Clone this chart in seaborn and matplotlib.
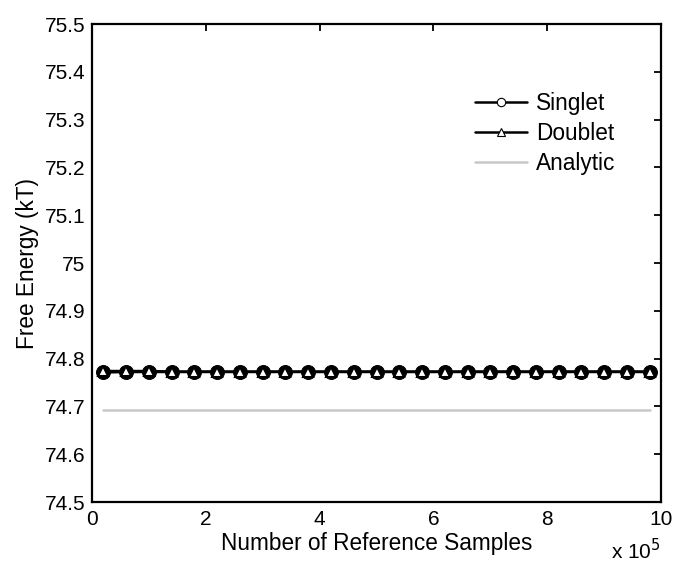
import matplotlib
matplotlib.use("Agg")
import matplotlib.pyplot as plt
import seaborn as sns
import numpy as np
import pandas as pd
from matplotlib.lines import Line2D

samples = [20000, 60000, 100000, 140000, 180000, 220000, 260000, 300000, 340000,
           380000, 420000, 460000, 500000, 540000, 580000, 620000, 660000, 700000,
           740000, 780000, 820000, 860000, 900000, 940000, 980000]
singlet = [74.771, 74.772, 74.772, 74.772, 74.772, 74.772, 74.772, 74.772, 74.772,
           74.772, 74.772, 74.772, 74.772, 74.772, 74.772, 74.772, 74.772, 74.772,
           74.772, 74.772, 74.772, 74.772, 74.772, 74.772, 74.772]
doublet = [74.774, 74.774, 74.774, 74.773, 74.773, 74.773, 74.773, 74.773, 74.773,
           74.773, 74.773, 74.773, 74.773, 74.773, 74.773, 74.773, 74.773, 74.773,
           74.773, 74.773, 74.773, 74.773, 74.773, 74.773, 74.773]
analytic = 74.692

yticks = [74.5, 74.6, 74.7, 74.8, 74.9, 75.0, 75.1, 75.2, 75.3, 75.4, 75.5]
yticklabels = ["74.5", "74.6", "74.7", "74.8", "74.9", "75", "75.1", "75.2", "75.3", "75.4", "75.5"]
xticks = [0, 2, 4, 6, 8, 10]

sns.set_style("white")
plt.rcParams['font.family'] = ['Liberation Sans', 'DejaVu Sans']
plt.rcParams['text.color'] = 'black'
plt.rcParams['axes.labelcolor'] = 'black'

df = pd.DataFrame({"x": np.array(samples) / 1e5, "singlet": singlet, "doublet": doublet,
                   "analytic": [analytic] * len(samples)})

fig = plt.figure(figsize=(6.78, 5.65), dpi=100)
ax = fig.add_axes([0.1357, 0.1115, 0.975 - 0.1357, 0.9575 - 0.1115])

sns.lineplot(data=df, x="x", y="analytic", ax=ax, color="#c8c8c8", linewidth=1.8, zorder=1)
sns.lineplot(data=df, x="x", y="singlet", ax=ax, color="black", linewidth=1.8,
             marker="o", markersize=10, markerfacecolor="black", markeredgecolor="black", zorder=2)
sns.lineplot(data=df, x="x", y="doublet", ax=ax, color="black", linewidth=1.8,
             marker="^", markersize=6.5, markerfacecolor="white", markeredgecolor="black",
             markeredgewidth=1.5, zorder=3)

ax.set_xlim(0, 10)
ax.set_ylim(74.5, 75.5)
ax.set_xticks(xticks)
ax.set_xticklabels([str(t) for t in xticks])
ax.set_yticks(yticks)
ax.set_yticklabels(yticklabels)
ax.tick_params(direction="in", length=5, width=1.3, top=True, right=True,
               labelsize=15, colors="black")
ax.tick_params(axis="x", pad=6)
ax.tick_params(axis="y", pad=5)
for s in ax.spines.values():
    s.set_visible(True)
    s.set_color("black")
    s.set_linewidth(1.6)

ax.set_xlabel("Number of Reference Samples", fontsize=16.3, labelpad=2)
ax.set_ylabel("Free Energy (kT)", fontsize=16.3, labelpad=4)
ax.text(1.0, -0.075, r"x 10$^{5}$", transform=ax.transAxes, ha="right", va="top", fontsize=15)

handles = [
    Line2D([], [], color="black", lw=1.8, marker="o", markersize=6, markerfacecolor="white",
           markeredgecolor="black", markeredgewidth=0.8),
    Line2D([], [], color="black", lw=1.8, marker="^", markersize=6, markerfacecolor="white",
           markeredgecolor="black", markeredgewidth=0.8),
    Line2D([], [], color="#c8c8c8", lw=1.8),
]
ax.legend(handles, ["Singlet", "Doublet", "Analytic"], loc="upper right",
          bbox_to_anchor=(0.955, 0.9), frameon=False, fontsize=16.3,
          handlelength=2.3, handletextpad=0.4, labelspacing=0.3)

fig.savefig("out.png", dpi=100)
